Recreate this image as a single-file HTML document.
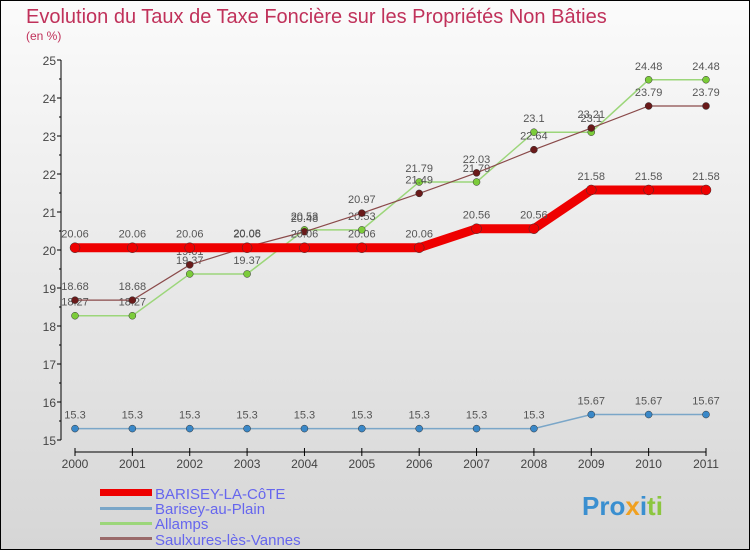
<!DOCTYPE html>
<html><head><meta charset="utf-8"><style>
body{margin:0}
#c{width:750px;height:550px;position:relative;background:linear-gradient(#fbfbfb,#d6d6d6);box-sizing:border-box;border:1px solid #000;font-family:"Liberation Sans",sans-serif;overflow:hidden}
text{font-family:"Liberation Sans",sans-serif}
</style></head><body>
<div id="c">
<svg id="s" width="750" height="550" style="position:absolute;left:-1px;top:-1px">
<text x="26" y="23" font-size="20" fill="#c0315a">Evolution du Taux de Taxe Foncière sur les Propriétés Non Bâties</text>
<text x="26" y="40" font-size="12" fill="#c0315a">(en %)</text>
<g id="axes"></g><g id="series"></g>
<g>
<rect x="100" y="489" width="52" height="7" fill="#e00"/>
<text x="155" y="499" font-size="15" fill="#6666ee">BARISEY-LA-CôTE</text>
<rect x="100" y="507" width="52" height="3" fill="#7aa6c8"/>
<text x="155" y="514" font-size="15" fill="#6666ee">Barisey-au-Plain</text>
<rect x="100" y="522" width="52" height="3" fill="#9cd67a"/>
<text x="155" y="529" font-size="15" fill="#6666ee">Allamps</text>
<rect x="100" y="537" width="52" height="3" fill="#9a6a6a"/>
<text x="155" y="545" font-size="15" fill="#6666ee">Saulxures-lès-Vannes</text>
</g>
<text x="582" y="515" font-size="26" font-weight="bold" fill="#3a8fd0">Pro<tspan fill="#f0a020">x</tspan>i<tspan fill="#8cc63f">ti</tspan></text>
</svg>
</div>
<script>
const years=[2000,2001,2002,2003,2004,2005,2006,2007,2008,2009,2010,2011];
const yTicks=[15,16,17,18,19,20,21,22,23,24,25];
const barisey=[20.06,20.06,20.06,20.06,20.06,20.06,20.06,20.56,20.56,21.58,21.58,21.58];
const bariseyPlain=[15.3,15.3,15.3,15.3,15.3,15.3,15.3,15.3,15.3,15.67,15.67,15.67];
const allamps=[18.27,18.27,19.37,19.37,20.53,20.53,21.79,21.79,23.1,23.1,24.48,24.48];
const saulxures=[18.68,18.68,19.61,20.08,20.48,20.97,21.49,22.03,22.64,23.21,23.79,23.79];
const NS='http://www.w3.org/2000/svg';
const xs=i=>75+i*(706-75)/(years.length-1);
const ys=v=>440-(v-15)*38;
function mk(t,a,p){const e=document.createElementNS(NS,t);for(const k in a)e.setAttribute(k,a[k]);p.appendChild(e);return e;}
const ax=document.getElementById('axes');
mk('line',{x1:61,y1:60,x2:61,y2:440,stroke:'#000'},ax);
mk('line',{x1:75,y1:452,x2:706,y2:452,stroke:'#000'},ax);
yTicks.forEach(v=>{
 mk('line',{x1:57,y1:ys(v),x2:61,y2:ys(v),stroke:'#000'},ax);
 if(v<25)mk('line',{x1:59,y1:ys(v+0.5),x2:61,y2:ys(v+0.5),stroke:'#000'},ax);
 const t=mk('text',{x:56,y:ys(v)+5,'font-size':12,fill:'#444','text-anchor':'end'},ax);t.textContent=v;
 
 
});
years.forEach((y,i)=>{
 mk('line',{x1:xs(i),y1:448,x2:xs(i),y2:456,stroke:'#000'},ax);
 const t=mk('text',{x:xs(i),y:468,'font-size':12,fill:'#444','text-anchor':'middle'},ax);t.textContent=y;
 
 
});
const sg=document.getElementById('series');
function draw(vals,col,w,r,dot,name){
 const g=mk('g',{},sg);
 
 
 mk('polyline',{points:vals.map((v,i)=>xs(i)+','+ys(v)).join(' '),fill:'none',stroke:col,'stroke-width':w},g);
 vals.forEach((v,i)=>{
  const c=mk('circle',{cx:xs(i),cy:ys(v),r:r,fill:dot,stroke:'#333','stroke-width':0.5},g);
  
  
  const t=mk('text',{x:xs(i),y:ys(v)-10,'font-size':11,fill:'#555','text-anchor':'middle'},g);t.textContent=v;
  
  
 });
}
draw(bariseyPlain,'#7aa6c8',1.5,3.5,'#3a88c8','series-barisey-au-plain');
draw(allamps,'#9cd67a',1.5,3.5,'#7ccc3a','series-allamps');
draw(saulxures,'#8a4a4a',1.2,3.5,'#6a1a1a','series-saulxures');
draw(barisey,'#e00',9,5,'#e00','series-barisey-la-cote');
</script>
</body></html>
